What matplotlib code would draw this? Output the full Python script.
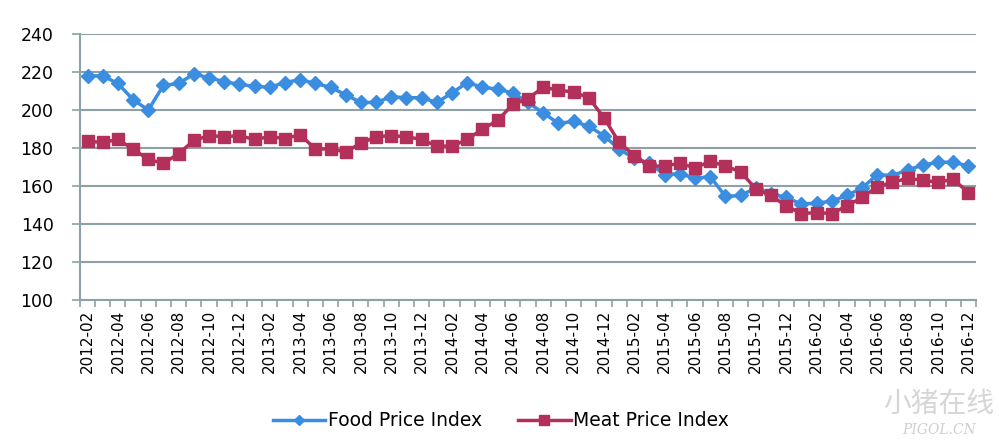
import matplotlib
matplotlib.use('Agg')
from matplotlib import pyplot as plt
from matplotlib.lines import Line2D
import numpy as np

# monthly series 2012-02 .. 2016-12
months = ['%d-%02d' % (2012 + (m + 1) // 12, (m + 1) % 12 + 1) for m in range(59)]

food_index = [218, 218, 214, 205.5, 200, 213, 214, 219, 217, 215, 213.5, 212.5, 212, 214.5, 216,
              214, 212, 208, 204, 204, 207, 206.5, 206.5, 204, 209, 214.5, 212, 211, 209,
              204, 198.5, 193, 194, 191.5, 186.5, 179.5, 174.5, 172, 166, 166.5, 164, 165, 154.5, 155,
              159, 156, 154, 150.5, 151, 152, 155, 159, 166, 165.5, 168.5, 171, 172.5, 172.5, 170.5]

meat_index = [183.5, 183, 184.5, 179.5, 174, 172, 177, 184, 186.5, 186, 186.5, 184.5, 186, 185, 187,
              179.5, 179.5, 178, 182.5, 186, 186.5, 186, 184.5, 181, 181, 184.5, 190, 194.5, 203,
              206, 212, 210.5, 209.5, 206.5, 196, 183, 176, 170.5, 170.5, 172, 169.5, 173, 170.5, 167.5,
              158.5, 155, 149.5, 145.5, 146, 145.5, 149.5, 154, 159.5, 162, 164, 163, 162, 163.5, 156.5]

y_ticks = [100, 120, 140, 160, 180, 200, 220, 240]

blue = '#3b8de0'
red = '#b3305a'
grid_col = '#8ea2a6'
x = np.arange(len(months))

fig = plt.figure(figsize=(9.99, 4.43), dpi=100)
ax = fig.add_axes([0.080, 0.323, 0.897, 0.600])

ax.plot(x, food_index, color=blue, lw=2.5, marker='D', ms=7, zorder=3)
ax.plot(x, meat_index, color=red, lw=2.5, marker='s', ms=8, zorder=3)

ax.set_xlim(-0.5, len(months) - 0.5)
ax.set_ylim(100, 240)
ax.set_yticks(y_ticks)
ax.tick_params(axis='y', labelsize=12.5, length=6, color=grid_col, width=1.2, pad=13)
ax.grid(axis='y', color=grid_col, lw=1.5)
ax.set_axisbelow(True)

ax.set_xticks(x[::2])
ax.set_xticklabels(months[::2], rotation=90, fontsize=11)
ax.set_xticks(np.arange(-0.5, len(months), 1), minor=True)
ax.tick_params(axis='x', which='major', length=0, pad=7)
ax.tick_params(axis='x', which='minor', length=5, color=grid_col, width=1.2)

for s in ['top', 'right']:
    ax.spines[s].set_visible(False)
for s in ['left', 'bottom']:
    ax.spines[s].set_color(grid_col)
    ax.spines[s].set_linewidth(1.5)

# legend handles use smaller markers like the original
handles = [Line2D([], [], color=blue, lw=2.5, marker='D', ms=5),
           Line2D([], [], color=red, lw=2.5, marker='s', ms=7)]
ax.legend(handles, ['Food Price Index', 'Meat Price Index'], loc='center',
          bbox_to_anchor=(0.47, -0.455), ncol=2, frameon=False,
          fontsize=13.5, handlelength=2.8, columnspacing=1.9, handletextpad=0.15)

# watermark
fig.text(0.940, 0.088, '小猪在线', family=['Noto Sans CJK SC', 'DejaVu Sans'],
         fontsize=20, color='#d6d6d6', ha='center', va='center')
fig.text(0.940, 0.030, 'PIGOL.CN', family='DejaVu Serif', style='italic',
         fontsize=10, color='#cfcfcf', ha='center', va='center')

fig.savefig('out.png', dpi=100)
